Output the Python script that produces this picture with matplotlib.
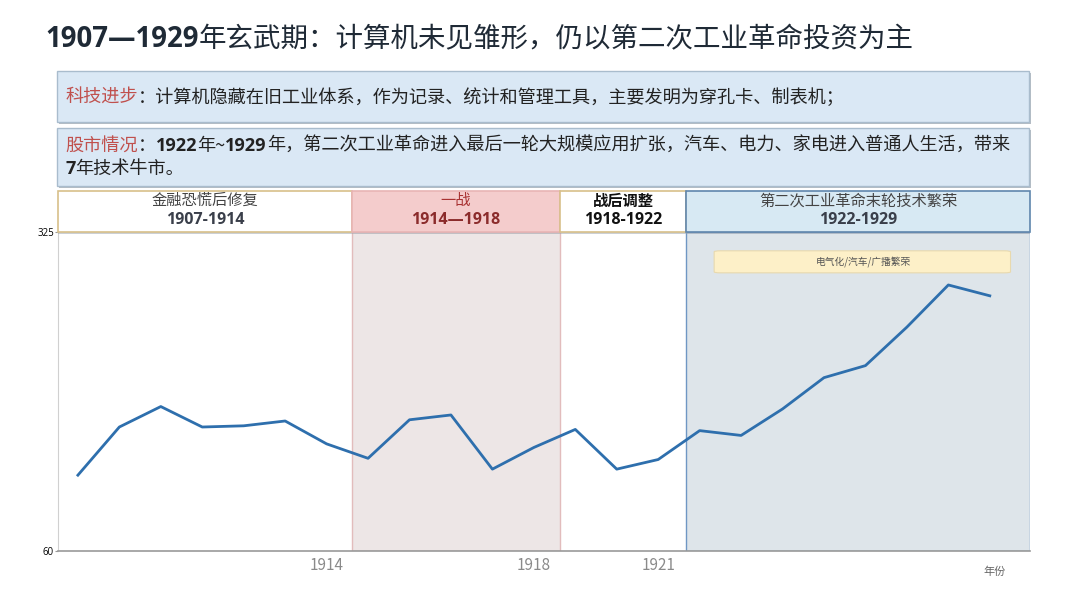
import matplotlib
matplotlib.use("Agg")
import matplotlib.pyplot as plt
from matplotlib.patches import Rectangle, FancyBboxPatch

plt.rcParams['font.family'] = ['Open Sans', 'Noto Sans CJK SC', 'DejaVu Sans']

# index values, one point per year 1907..1929
values = [123, 163, 180, 163, 164, 168, 149, 137, 169, 173, 128, 146,
          161, 128, 136, 160, 156, 178, 204, 214, 246, 281, 272]
tick_pos = [6, 11, 14]
tick_labels = ['1914', '1918', '1921']

# period headers: name, range, band edges (in point index units)
period_names = ['金融恐慌后修复', '一战', '战后调整', '第二次工业革命末轮技术繁荣']
period_years = ['1907-1914', '1914—1918', '1918-1922', '1922-1929']
period_edges = [-0.48, 6.61, 11.63, 14.67, 22.97]

title_bold = '1907—1929'
title_rest = '年玄武期：计算机未见雏形，仍以第二次工业革命投资为主'
tech_label = '科技进步'
tech_text = '：计算机隐藏在旧工业体系，作为记录、统计和管理工具，主要发明为穿孔卡、制表机；'
market_label = '股市情况'
market_line1 = [('：', 'normal'), ('1922', 'bold'), ('年~', 'normal'), ('1929', 'bold'),
                ('年，第二次工业革命进入最后一轮大规模应用扩张，汽车、电力、家电进入普通人生活，带来', 'normal')]
market_line2 = [('7', 'bold'), ('年技术牛市。', 'normal')]
note_text = '电气化/汽车/广播繁荣'

CJK = ['Noto Sans CJK SC', 'DejaVu Sans']
LAT = ['Open Sans', 'Noto Sans CJK SC']

fig = plt.figure(figsize=(10.8, 6.08), dpi=100)

# overlay in pixel coordinates for the slide-like text parts
ov = fig.add_axes([0, 0, 1, 1])
ov.set_xlim(0, 1080)
ov.set_ylim(608, 0)
ov.axis('off')


def chain(x, y, parts, size):
    # place segments one after another on the same baseline
    fig.canvas.draw()
    r = fig.canvas.get_renderer()
    cur = x
    for txt, col, w in parts:
        fam = LAT if w == 'bold' else CJK
        t = ov.text(cur, y, txt, color=col, fontweight=w, fontsize=size,
                    va='baseline', ha='left', family=fam)
        bb = t.get_window_extent(renderer=r)
        cur += bb.width * 1080 / fig.bbox.width


# title
chain(45, 47, [(title_bold, '#1f2a36', 'bold'), (title_rest, '#1f2a36', 'normal')], 19.8)

# info boxes
for y0, y1 in [(71, 122), (128, 186)]:
    ov.add_patch(Rectangle((59, y0 + 2), 972, y1 - y0, facecolor='#b5bcc4', edgecolor='none'))
    ov.add_patch(Rectangle((57, y0), 972, y1 - y0, facecolor='#dae8f5', edgecolor='#a9bccd', lw=1))

red = '#c0504d'
chain(65, 103, [(tech_label, red, 'normal'), (tech_text, '#222222', 'normal')], 13.1)
chain(65, 151, [(market_label, red, 'normal')] + [(t, '#222222', w) for t, w in market_line1], 13.1)
chain(65, 174, [(t, '#222222', w) for t, w in market_line2], 13.1)

# main chart
ax = fig.add_axes([58 / 1080, 57 / 608, 972 / 1080, 319 / 608])
ax.set_xlim(period_edges[0], period_edges[-1])
ax.set_ylim(60, 325)
ax.axvspan(period_edges[1], period_edges[2], facecolor='#ede6e6', edgecolor='#e2bcbc', lw=1)
ax.axvspan(period_edges[3], period_edges[4], facecolor='#dee5ea', edgecolor='#6f97c4', lw=1)
ax.plot(range(len(values)), values, color='#2e6fad', lw=2)

ax.set_xticks(tick_pos)
ax.set_xticklabels(tick_labels, fontsize=11, color='#8a8a8a', family=CJK)
ax.tick_params(axis='x', length=0, pad=4)
ax.set_yticks([60, 325])
ax.set_yticklabels(['60', '325'], fontsize=7)
ax.tick_params(axis='y', length=2, pad=1, color='#999999')
for s in ['top', 'right']:
    ax.spines[s].set_visible(False)
ax.spines['left'].set_color('#d0d0d0')
ax.spines['bottom'].set_color('#999999')
ax.spines['bottom'].set_linewidth(1.2)

# period header boxes above the plot
tr = ax.get_xaxis_transform()
hdr_face = ['#ffffff', '#f4cccc', '#ffffff', '#d7e9f3']
hdr_edge = ['#d8c08a', '#e8b4b4', '#d8c08a', '#5f86ad']
hdr_col1 = ['#444444', '#a83232', '#111111', '#444444']
hdr_col2 = ['#3a3f4a', '#8b2b2b', '#111111', '#3a3f4a']
hdr_w1 = ['normal', 'normal', 'bold', 'normal']
for i in range(4):
    x0, x1 = period_edges[i], period_edges[i + 1]
    ax.add_patch(Rectangle((x0, 0.995), x1 - x0, 0.1285, transform=tr, facecolor='#9aa3ad',
                           edgecolor='none', clip_on=False, zorder=4, alpha=0.5))
    ax.add_patch(Rectangle((x0, 1.0), x1 - x0, 0.1285, transform=tr, facecolor=hdr_face[i],
                           edgecolor=hdr_edge[i], lw=1.2, clip_on=False, zorder=5))
    xm = (x0 + x1) / 2
    ax.text(xm, 1.098, period_names[i], transform=tr, ha='center', va='center',
            fontsize=11, color=hdr_col1[i], fontweight=hdr_w1[i], zorder=6, clip_on=False,
            family=CJK)
    ax.text(xm, 1.038, period_years[i], transform=tr, ha='center', va='center',
            fontsize=11.5, color=hdr_col2[i], fontweight='bold', zorder=6, clip_on=False,
            family=LAT)

# note box in the boom period
ax.add_patch(FancyBboxPatch((15.35, 0.872), 7.15, 0.069, transform=tr,
                            boxstyle='round,pad=0,rounding_size=0.15', facecolor='#fdf0c8',
                            edgecolor='#e8d9ae', lw=0.8, zorder=4, mutation_aspect=0.02))
ax.text(18.95, 0.907, note_text, transform=tr, ha='center', va='center', fontsize=7,
        color='#555555', zorder=5, family=CJK)

ov.text(995, 572, '年份', fontsize=8, color='#666666', ha='center', va='center', family=CJK)
ov.set_zorder(-1)

fig.savefig('out.png', dpi=100)
